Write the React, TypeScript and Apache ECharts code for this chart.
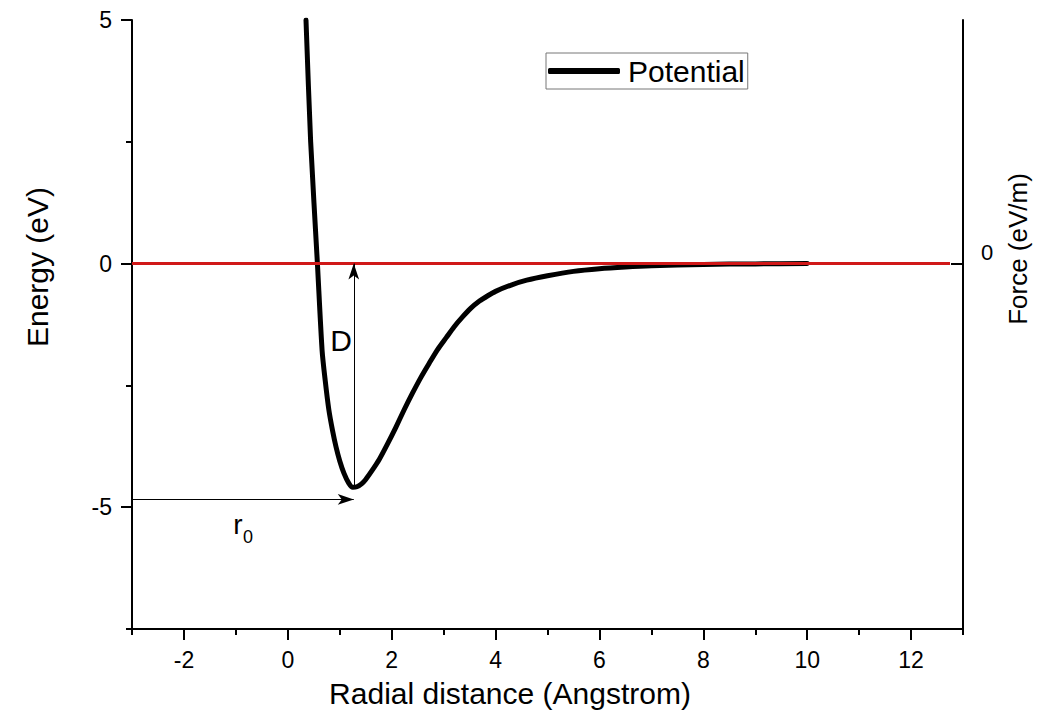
import React, { useEffect, useRef } from "react";
import * as echarts from "echarts";

const radius = [0.35, 0.44, 0.57, 0.66, 0.72, 0.79, 0.86, 0.93, 1.0, 1.08, 1.17, 1.25, 1.33, 1.42, 1.5, 1.62, 1.76, 1.92, 2.08, 2.24, 2.4, 2.56, 2.72, 2.88, 3.05, 3.2, 3.36, 3.52, 3.69, 3.85, 4.0, 4.3, 4.6, 5.0, 5.5, 6.0, 6.5, 7.0, 8.0, 9.0, 10.0];
const potential = [5, 2.5, 0, -1.78, -2.4, -3.0, -3.42, -3.77, -4.05, -4.3, -4.5, -4.59, -4.58, -4.52, -4.43, -4.25, -4.02, -3.7, -3.36, -3.0, -2.66, -2.34, -2.05, -1.77, -1.52, -1.3, -1.1, -0.92, -0.77, -0.66, -0.57, -0.44, -0.34, -0.25, -0.16, -0.105, -0.07, -0.045, -0.017, -0.006, 0];
const forceX = [-3, 12.75];
const forceY = [0, 0];
const xMajorTicks = [-2, 0, 2, 4, 6, 8, 10, 12];
const xMinorTicks = [-3, -1, 1, 3, 5, 7, 9, 11, 13];
const yMajorTicks = [-5, 0, 5];
const yMinorTicks = [-7.5, -2.5, 2.5];
const forceTicks = [0];
const rMin = 1.27;
const dMin = -4.59;
const r0ArrowY = -4.84;

const FONT = "'Liberation Sans', Arial, sans-serif";

export default function App() {
  const ref = useRef<HTMLDivElement>(null);
  useEffect(() => {
    const chart = echarts.init(ref.current!, null, { renderer: "svg" });
    const axisBase = { type: "value" as const, min: -3, max: 13, interval: 1, splitLine: { show: false } };
    const yBase = { type: "value" as const, min: -7.5, max: 5, interval: 2.5, splitLine: { show: false } };
    chart.setOption({
      animation: false,
      backgroundColor: "#fff",
      textStyle: { fontFamily: FONT },
      grid: { left: 132, right: 75, top: 20, bottom: 88, containLabel: false },
      legend: {
        left: 546,
        top: 53,
        icon: "roundRect",
        itemWidth: 72,
        itemHeight: 6,
        padding: [3, 3, 3, 2],
        borderColor: "#777",
        borderWidth: 1,
        textStyle: { fontSize: 30, color: "#000", fontFamily: FONT, padding: [0, 0, 0, 3] },
        data: ["Potential"],
      },
      xAxis: [
        {
          ...axisBase,
          position: "bottom",
          axisLine: { show: true, onZero: false, lineStyle: { color: "#000", width: 2 } },
          axisTick: { show: true, length: 11, lineStyle: { color: "#000", width: 2 }, customValues: xMajorTicks },
          axisLabel: { fontSize: 23, color: "#000", margin: 19, fontFamily: FONT, customValues: xMajorTicks },
        },
        {
          ...axisBase,
          position: "bottom",
          axisLine: { show: false, onZero: false },
          axisTick: { show: true, length: 6, lineStyle: { color: "#000", width: 2 }, customValues: xMinorTicks },
          axisLabel: { show: false },
        },
      ],
      yAxis: [
        {
          ...yBase,
          position: "left",
          axisLine: { show: true, onZero: false, lineStyle: { color: "#000", width: 2 } },
          axisTick: { show: true, length: 11, lineStyle: { color: "#000", width: 2 }, customValues: yMajorTicks },
          axisLabel: { fontSize: 23, color: "#000", margin: 20, fontFamily: FONT, customValues: yMajorTicks },
        },
        {
          ...yBase,
          position: "left",
          axisLine: { show: false, onZero: false },
          axisTick: { show: true, length: 6, lineStyle: { color: "#000", width: 2 }, customValues: yMinorTicks },
          axisLabel: { show: false },
        },
        {
          ...yBase,
          position: "right",
          axisLine: { show: true, onZero: false, lineStyle: { color: "#000", width: 2 } },
          axisTick: { show: true, inside: true, length: 12, lineStyle: { color: "#000", width: 2 }, customValues: forceTicks },
          axisLabel: { fontSize: 22, color: "#000", margin: 18, verticalAlign: "bottom", fontFamily: FONT, customValues: forceTicks },
        },
      ],
      series: [
        {
          name: "Potential",
          type: "line",
          xAxisIndex: 0,
          yAxisIndex: 0,
          data: radius.map((r, i) => [r, potential[i]]),
          showSymbol: false,
          symbol: "none",
          smooth: 0.25,
          color: "#000",
          lineStyle: { color: "#000", width: 5, cap: "round", join: "round" },
          z: 2,
          markLine: {
            silent: true,
            animation: false,
            symbol: ["none", "arrow"],
            symbolSize: [8, 16],
            label: { show: false },
            lineStyle: { color: "#000", width: 1, type: "solid" },
            emphasis: { disabled: true },
            data: [
              [{ coord: [rMin, dMin] }, { coord: [rMin, 0] }],
              [{ coord: [-3, r0ArrowY] }, { coord: [rMin, r0ArrowY] }],
            ],
          },
        },
        {
          name: "Force",
          type: "line",
          xAxisIndex: 0,
          yAxisIndex: 2,
          data: forceX.map((x, i) => [x, forceY[i]]),
          showSymbol: false,
          symbol: "none",
          color: "#d01818",
          lineStyle: { color: "#d01818", width: 3 },
          z: 3,
        },
      ],
      graphic: [
        {
          type: "text",
          x: 37,
          y: 267,
          rotation: Math.PI / 2,
          style: { text: "Energy (eV)", fontSize: 30, fontFamily: FONT, fill: "#000", align: "center", verticalAlign: "middle" },
        },
        {
          type: "text",
          x: 510,
          y: 693,
          style: { text: "Radial distance (Angstrom)", fontSize: 30, fontFamily: FONT, fill: "#000", align: "center", verticalAlign: "middle" },
        },
        {
          type: "text",
          x: 1018,
          y: 249,
          rotation: Math.PI / 2,
          style: { text: "Force (eV/m)", fontSize: 26, fontFamily: FONT, fill: "#000", align: "center", verticalAlign: "middle" },
        },
        {
          type: "text",
          x: 341,
          y: 340,
          style: { text: "D", fontSize: 30, fontFamily: FONT, fill: "#000", align: "center", verticalAlign: "middle" },
        },
        {
          type: "text",
          x: 238,
          y: 524,
          style: { text: "r", fontSize: 28, fontFamily: FONT, fill: "#000", align: "center", verticalAlign: "middle" },
        },
        {
          type: "text",
          x: 248,
          y: 537,
          style: { text: "0", fontSize: 18, fontFamily: FONT, fill: "#000", align: "center", verticalAlign: "middle" },
        },
      ],
    });
    return () => chart.dispose();
  }, []);
  return <div ref={ref} style={{ width: 1038, height: 717, position: "absolute", left: 0, top: 0 }} />;
}
